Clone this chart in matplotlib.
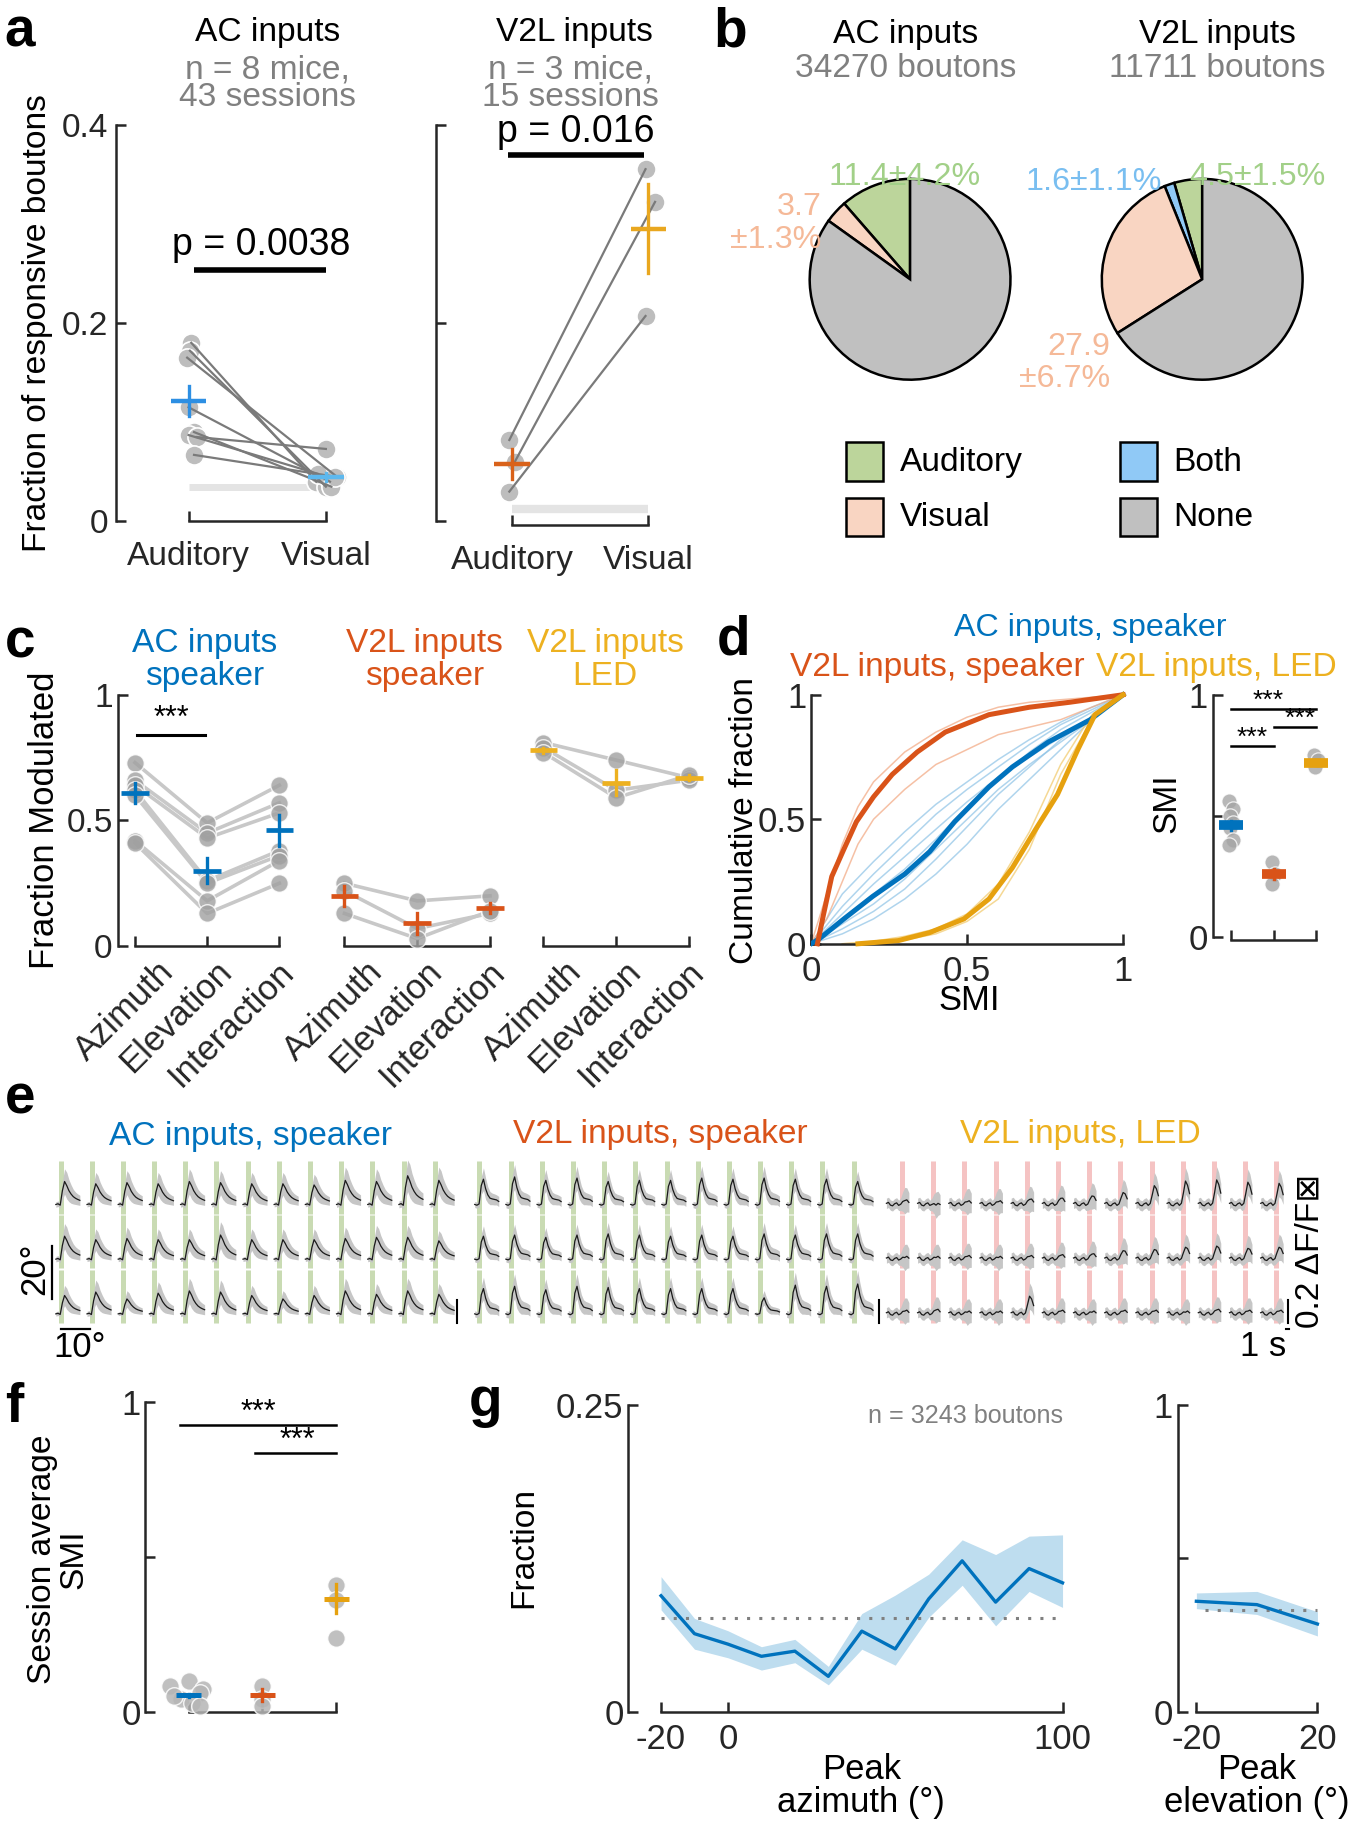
import numpy as np
import matplotlib
matplotlib.use('Agg')
import matplotlib.pyplot as plt
from matplotlib import font_manager
from matplotlib.patches import Rectangle

names = {f.name for f in font_manager.fontManager.ttflist}
REG = 'Liberation Sans' if 'Liberation Sans' in names else 'DejaVu Sans'
NAR = 'Liberation Sans Narrow' if 'Liberation Sans Narrow' in names else REG
NSC = 1.0 if NAR != REG else 0.86
plt.rcParams['font.family'] = [REG, 'DejaVu Sans']

# ------------------------------------------------------------------ data
# panel a
a_xlabels = ['Auditory', 'Visual']
a_yticks = [0, 0.2, 0.4]
a_yticklabels = ['0', '0.2', '0.4']
a_ac_aud = [0.180, 0.172, 0.165, 0.115, 0.090, 0.087, 0.085, 0.067]
a_ac_vis = [0.040, 0.035, 0.045, 0.040, 0.035, 0.048, 0.073, 0.045]
a_ac_mean = [0.121, 0.045]
a_ac_sem = [0.015, 0.004]
a_ac_chance = 0.035
a_v2_aud = [0.082, 0.060, 0.030]
a_v2_vis = [0.355, 0.322, 0.207]
a_v2_mean = [0.058, 0.295]
a_v2_sem = [0.015, 0.045]
a_v2_chance = 0.012
a_p = ['p = 0.0038', 'p = 0.016']

# panel b
b_cats = ['Auditory', 'Both', 'Visual', 'None']
b_ac = [11.4, 0.0, 3.7, 84.9]
b_v2 = [4.5, 1.6, 27.9, 66.0]
b_ac_n = '34270 boutons'
b_v2_n = '11711 boutons'

# panel c
c_xlabels = ['Azimuth', 'Elevation', 'Interaction']
c_ac = [[0.73, 0.49, 0.64], [0.66, 0.45, 0.57], [0.64, 0.43, 0.53],
        [0.62, 0.26, 0.38], [0.60, 0.25, 0.36], [0.42, 0.18, 0.34],
        [0.41, 0.13, 0.25]]
c_ac_mean = [0.61, 0.30, 0.46]
c_ac_sem = [0.04, 0.05, 0.06]
c_v2s = [[0.25, 0.18, 0.20], [0.22, 0.07, 0.13], [0.13, 0.03, 0.14]]
c_v2s_mean = [0.20, 0.09, 0.15]
c_v2s_sem = [0.04, 0.04, 0.02]
c_led = [[0.81, 0.74, 0.67], [0.79, 0.62, 0.66], [0.77, 0.59, 0.68]]
c_led_mean = [0.78, 0.65, 0.67]
c_led_sem = [0.01, 0.05, 0.01]

# panel d (cumulative distributions of SMI)
d_ac_xm = [0.0, 0.026, 0.105, 0.197, 0.30, 0.38, 0.46, 0.57, 0.645, 0.76, 0.895, 1.0]
d_ac_mean = [0.0, 0.02, 0.10, 0.19, 0.28, 0.37, 0.49, 0.63, 0.71, 0.81, 0.90, 1.0]
d_v2s_xm = [0.02, 0.04, 0.066, 0.105, 0.145, 0.20, 0.26, 0.34, 0.43, 0.57, 0.70, 0.83, 1.0]
d_v2s_mean = [0.0, 0.12, 0.27, 0.38, 0.49, 0.59, 0.68, 0.77, 0.85, 0.92, 0.95, 0.97, 1.0]
d_led_xm = [0.15, 0.28, 0.38, 0.49, 0.57, 0.645, 0.72, 0.79, 0.855, 0.91, 1.0]
d_led_mean = [0.0, 0.013, 0.045, 0.10, 0.18, 0.305, 0.46, 0.60, 0.78, 0.92, 1.0]
d_grid = [0.0, 0.1, 0.2, 0.3, 0.4, 0.5, 0.6, 0.7, 0.8, 0.9, 1.0]
d_ac_sess = [[0, 0.20, 0.33, 0.45, 0.56, 0.65, 0.74, 0.82, 0.89, 0.95, 1],
             [0, 0.15, 0.28, 0.40, 0.52, 0.62, 0.71, 0.80, 0.88, 0.94, 1],
             [0, 0.10, 0.20, 0.30, 0.42, 0.55, 0.66, 0.77, 0.86, 0.93, 1],
             [0, 0.06, 0.13, 0.22, 0.34, 0.47, 0.60, 0.71, 0.82, 0.91, 1],
             [0, 0.04, 0.10, 0.18, 0.28, 0.40, 0.54, 0.66, 0.78, 0.90, 1],
             [0, 0.08, 0.16, 0.26, 0.38, 0.50, 0.62, 0.72, 0.81, 0.90, 1],
             [0, 0.12, 0.24, 0.35, 0.46, 0.57, 0.67, 0.75, 0.83, 0.91, 1]]
d_v2_grid = [0.0, 0.05, 0.1, 0.15, 0.2, 0.3, 0.4, 0.5, 0.6, 0.7, 0.8, 0.9, 1.0]
d_v2s_sess = [[0, 0.20, 0.40, 0.55, 0.65, 0.77, 0.85, 0.91, 0.95, 0.97, 0.98, 0.99, 1],
              [0, 0.10, 0.25, 0.40, 0.50, 0.62, 0.72, 0.78, 0.84, 0.87, 0.90, 0.95, 1]]
d_led_grid = [0.1, 0.2, 0.3, 0.4, 0.5, 0.6, 0.7, 0.8, 0.9, 1.0]
d_led_sess = [[0, 0.01, 0.03, 0.06, 0.12, 0.24, 0.45, 0.72, 0.92, 1],
              [0, 0.005, 0.015, 0.04, 0.09, 0.18, 0.38, 0.68, 0.90, 1]]
d_smi_ac = [0.56, 0.53, 0.50, 0.47, 0.45, 0.40, 0.38]
d_smi_v2s = [0.31, 0.26, 0.22]
d_smi_led = [0.75, 0.73, 0.70]
d_smi_mean = [0.46, 0.26, 0.72]
d_smi_sem = [0.02, 0.02, 0.01]

# panel e (example tuning traces, dF/F)
e_ac_shape = [0.0, 0.03, -0.03, 0.60, 1.00, 0.82, 0.60, 0.45, 0.34, 0.27, 0.22, 0.18]
e_ac_err = [0.12, 0.12, 0.12, 0.40, 0.55, 0.58, 0.48, 0.40, 0.32, 0.27, 0.24, 0.22]
e_v2_shape = [0.0, -0.03, 0.02, 0.75, 1.00, 0.62, 0.38, 0.25, 0.22, 0.20, 0.18, 0.12]
e_v2_err = [0.12, 0.12, 0.12, 0.35, 0.45, 0.42, 0.32, 0.26, 0.23, 0.22, 0.20, 0.20]
e_led_base = [0.010, 0.018, -0.006, -0.012, 0.006, 0.014, -0.008, 0.0, 0.008, -0.006, 0.010, 0.0]
e_led_shape = [0, 0, 0, 0, 0, 0, 0, 0.05, 0.45, 1.0, 0.75, 0.45]
e_led_err = [0.02, 0.02, 0.02, 0.02, 0.02, 0.02, 0.02, 0.03, 0.06, 0.09, 0.08, 0.06]
e_ac_amp = [[0.20, 0.18, 0.19, 0.18, 0.20, 0.19, 0.18, 0.18, 0.17, 0.21, 0.20, 0.25, 0.21],
            [0.20, 0.17, 0.18, 0.17, 0.17, 0.21, 0.17, 0.17, 0.17, 0.18, 0.19, 0.19, 0.16],
            [0.16, 0.19, 0.13, 0.18, 0.20, 0.19, 0.16, 0.13, 0.16, 0.20, 0.17, 0.20, 0.17]]
e_v2_amp = [[0.22, 0.24, 0.21, 0.23, 0.20, 0.21, 0.21, 0.23, 0.22, 0.23, 0.22, 0.22, 0.20],
            [0.20, 0.21, 0.19, 0.21, 0.22, 0.21, 0.20, 0.21, 0.20, 0.22, 0.21, 0.22, 0.22],
            [0.22, 0.24, 0.21, 0.24, 0.23, 0.22, 0.22, 0.22, 0.22, 0.14, 0.25, 0.24, 0.26]]
e_led_amp = [[0.04, 0.0, 0.03, 0.03, 0.05, 0.06, 0.08, 0.11, 0.17, 0.21, 0.22, 0.20, 0.19],
             [0.02, 0.02, 0.03, 0.02, 0.03, 0.04, 0.05, 0.08, 0.09, 0.11, 0.12, 0.10, 0.11],
             [0.03, 0.04, 0.02, 0.02, 0.16, 0.03, 0.02, 0.03, 0.03, 0.02, 0.04, 0.03, 0.03]]

# panel f
f_ac = [0.084, 0.10, 0.074, 0.06, 0.04, 0.03, 0.02, 0.05]
f_v2s = [0.084, 0.04, 0.02]
f_led = [0.41, 0.36, 0.24]
f_mean = [0.053, 0.055, 0.365]
f_sem = [0.004, 0.02, 0.047]

# panel g
g_az = [-20, -10, 0, 10, 20, 30, 40, 50, 60, 70, 80, 90, 100]
g_az_mean = [0.0945, 0.0636, 0.0551, 0.0452, 0.0494, 0.0289, 0.0657, 0.0512, 0.0919, 0.1229, 0.0893, 0.1166, 0.1050]
g_az_hi = [0.110, 0.076, 0.066, 0.053, 0.059, 0.037, 0.080, 0.095, 0.112, 0.140, 0.128, 0.143, 0.144]
g_az_lo = [0.083, 0.051, 0.044, 0.034, 0.040, 0.022, 0.051, 0.038, 0.077, 0.103, 0.070, 0.098, 0.085]
g_az_chance = 0.076
g_el = [-20, 0, 20]
g_el_mean = [0.360, 0.349, 0.286]
g_el_hi = [0.387, 0.392, 0.326]
g_el_lo = [0.336, 0.317, 0.247]
g_el_chance = 0.331

# ------------------------------------------------------------------ style
BLUE, ORANGE, YELLOW = '#0072BD', '#D95319', '#EDB120'
A_BLUE, A_LBLUE, A_OR, A_YE = '#2D8FE3', '#5DB8EE', '#D9621A', '#E9A71F'
C_GREEN, C_PEACH, C_BOTH, C_NONE = '#BCD59B', '#F9D5C2', '#90C9F6', '#C0C0C0'
T_GREEN, T_PEACH, T_BLUE = '#A2D088', '#F5B998', '#79BEF0'
GRAYTXT = '#808080'
DARK = '#262626'
RS = 28  # regular text size

fig = plt.figure(figsize=(13.5, 18.28), dpi=100)
W, H = 1160.0, 1570.8


def ftext(x, y, s, size=RS, color='black', fam=None, **kw):
    kw.setdefault('ha', 'center')
    kw.setdefault('va', 'center')
    fam = fam or REG
    if fam == NAR:
        size = size * NSC
    fig.text(x / W, 1 - y / H, s, fontsize=size, color=color,
             family=[fam, 'DejaVu Sans'], **kw)


def add_ax(box, xmap, ymap):
    l, r, t, b = box
    (dx0, px0), (dx1, px1) = xmap
    sx = (px1 - px0) / (dx1 - dx0)
    (dy0, py0), (dy1, py1) = ymap
    sy = (py0 - py1) / (dy1 - dy0)
    ax = fig.add_axes([l / W, 1 - b / H, (r - l) / W, (b - t) / H])
    ax.set_xlim(dx0 + (l - px0) / sx, dx0 + (r - px0) / sx)
    ax.set_ylim(dy0 - (b - py0) / sy, dy0 + (py0 - t) / sy)
    ax.patch.set_visible(False)
    return ax


def style(ax, left=True, bottom=True, xb=None, yb=None, ypos=None):
    for s in ('top', 'right'):
        ax.spines[s].set_visible(False)
    ax.spines['left'].set_visible(left)
    ax.spines['bottom'].set_visible(bottom)
    for s in ('left', 'bottom'):
        ax.spines[s].set_linewidth(1.8)
        ax.spines[s].set_color(DARK)
    if xb is not None:
        ax.spines['bottom'].set_bounds(*xb)
    if yb is not None:
        ax.spines['left'].set_bounds(*yb)
    if ypos is not None:
        ax.spines['bottom'].set_position(('data', ypos))
    ax.tick_params(direction='in', length=7, width=1.8, color=DARK, labelcolor=DARK)
    if not left:
        ax.tick_params(axis='y', left=False, labelleft=False)
    if not bottom:
        ax.tick_params(axis='x', bottom=False, labelbottom=False)


def set_labels(ax, axis, ticks, labels, size, fam, **kw):
    sz = size * (NSC if fam == NAR else 1.0)
    if axis == 'x':
        ax.set_xticks(ticks)
        ax.set_xticklabels(labels, fontsize=sz, family=[fam, 'DejaVu Sans'], **kw)
    else:
        ax.set_yticks(ticks)
        ax.set_yticklabels(labels, fontsize=sz, family=[fam, 'DejaVu Sans'], **kw)


def cross(ax, x, m, e, color, hw, lw=3.0, vlw=None):
    ax.plot([x - hw, x + hw], [m, m], color=color, lw=lw, solid_capstyle='butt', zorder=6)
    ax.plot([x, x], [m - e, m + e], color=color, lw=vlw or lw * 0.75, zorder=6)


# panel letters
for lab, (x, y) in {'a': (4, 28), 'b': (613, 28), 'c': (4, 553), 'd': (616, 550),
                    'e': (4, 945), 'f': (4, 1210), 'g': (403, 1205)}.items():
    ftext(x, y, lab, size=46, weight='bold', ha='left')

# ------------------------------------------------------------------ panel a
axL = add_ax((100, 305, 95, 470), ((0, 162), (1, 280)), ((0, 448), (0.4, 107)))
style(axL, xb=(0, 1), yb=(0, 0.4), ypos=0)
set_labels(axL, 'y', a_yticks, a_yticklabels, RS, REG)
set_labels(axL, 'x', [0, 1], a_xlabels, RS, REG)
axL.tick_params(axis='x', pad=14)
axL.tick_params(axis='y', pad=6)
axL.plot([0, 1], [a_ac_chance] * 2, color='#E4E4E4', lw=5, solid_capstyle='butt', zorder=1)
jA = [0.02, 0.01, -0.01, 0.0, 0.04, 0.0, 0.06, 0.04]
jV = [-0.07, 0.0, 0.08, 0.03, 0.04, -0.06, 0.0, 0.07]
axL.scatter([0 + j for j in jA], a_ac_aud, s=190, color='#BDBDBD', edgecolor='white', lw=1.2, zorder=3)
axL.scatter([1 + j for j in jV], a_ac_vis, s=190, color='#BDBDBD', edgecolor='white', lw=1.2, zorder=3)
for i in range(len(a_ac_aud)):
    axL.plot([0 + jA[i], 1 + jV[i]], [a_ac_aud[i], a_ac_vis[i]], color='#7A7A7A', lw=1.6, zorder=4)
cross(axL, 0, a_ac_mean[0], a_ac_sem[0], A_BLUE, 0.13, lw=3.2)
cross(axL, 1, a_ac_mean[1], a_ac_sem[1], A_LBLUE, 0.13, lw=3.2)
axL.plot([0.04, 1.0], [0.253, 0.253], color='black', lw=4, solid_capstyle='butt')
axL.text(0.53, 0.279, a_p[0], fontsize=27, ha='center', va='center')

axR = add_ax((375, 590, 95, 470), ((0, 440), (1, 557)), ((0, 448), (0.4, 107)))
style(axR, xb=(0, 1), yb=(0, 0.4), ypos=-0.004)
set_labels(axR, 'y', a_yticks, ['', '', ''], RS, REG)
set_labels(axR, 'x', [0, 1], a_xlabels, RS, REG)
axR.tick_params(axis='x', pad=14)
axR.plot([0, 1], [a_v2_chance] * 2, color='#E4E4E4', lw=6, solid_capstyle='butt', zorder=1)
jA2 = [-0.02, 0.02, -0.02]
jV2 = [-0.02, 0.05, -0.02]
axR.scatter([0 + j for j in jA2], a_v2_aud, s=190, color='#BDBDBD', edgecolor='white', lw=1.2, zorder=3)
axR.scatter([1 + j for j in jV2], a_v2_vis, s=190, color='#BDBDBD', edgecolor='white', lw=1.2, zorder=3)
for i in range(len(a_v2_aud)):
    axR.plot([0 + jA2[i], 1 + jV2[i]], [a_v2_aud[i], a_v2_vis[i]], color='#7A7A7A', lw=1.6, zorder=4)
cross(axR, 0, a_v2_mean[0], a_v2_sem[0], A_OR, 0.13, lw=3.2)
cross(axR, 1, a_v2_mean[1], a_v2_sem[1], A_YE, 0.13, lw=3.2)
axR.plot([-0.03, 0.97], [0.3695, 0.3695], color='black', lw=4, solid_capstyle='butt')
axR.text(0.47, 0.392, a_p[1], fontsize=27, ha='center', va='center')

ftext(32, 278, 'Fraction of responsive boutons', size=RS, rotation=90)
ftext(230, 28, 'AC inputs', size=RS)
ftext(230, 60, 'n = 8 mice,', size=RS, color=GRAYTXT)
ftext(230, 84, '43 sessions', size=RS, color=GRAYTXT)
ftext(494, 28, 'V2L inputs', size=RS)
ftext(490, 60, 'n = 3 mice,', size=RS, color=GRAYTXT)
ftext(490, 84, '15 sessions', size=RS, color=GRAYTXT)

# ------------------------------------------------------------------ panel b
ftext(778, 30, 'AC inputs', size=RS)
ftext(778, 59, b_ac_n, size=RS, color=GRAYTXT)
ftext(1046, 30, 'V2L inputs', size=RS)
ftext(1046, 59, b_v2_n, size=RS, color=GRAYTXT)
cat_col = {'Auditory': C_GREEN, 'Both': C_BOTH, 'Visual': C_PEACH, 'None': C_NONE}
for vals, cx in ((b_ac, 782), (b_v2, 1033)):
    r = 86
    axp = fig.add_axes([(cx - r - 2) / W, 1 - (240 + r + 2) / H, (2 * r + 4) / W, (2 * r + 4) / H])
    v = [x for x in vals if x > 0]
    cols = [cat_col[c] for c, x in zip(b_cats, vals) if x > 0]
    axp.pie(v, colors=cols, startangle=90, counterclock=True, radius=1.0,
            wedgeprops=dict(edgecolor='black', linewidth=1.8))
    axp.set_xlim(-1.02, 1.02)
    axp.set_ylim(-1.02, 1.02)
    axp.set_aspect('equal')
PS = 27
ftext(777, 152, '11.4±4.2%', size=PS, color=T_GREEN)
ftext(706, 178, '3.7', size=PS, color=T_PEACH, ha='right')
ftext(706, 206, '±1.3%', size=PS, color=T_PEACH, ha='right')
ftext(940, 156, '1.6±1.1%', size=PS, color=T_BLUE)
ftext(1080, 152, '4.5±1.5%', size=PS, color=T_GREEN)
ftext(954, 298, '27.9', size=PS, color=T_PEACH, ha='right')
ftext(954, 326, '±6.7%', size=PS, color=T_PEACH, ha='right')
for lab, (bx, by) in {'Auditory': (727, 380), 'Visual': (727, 428),
                      'Both': (962, 380), 'None': (962, 428)}.items():
    fig.add_artist(Rectangle((bx / W, 1 - (by + 33) / H), 32 / W, 33 / H,
                             transform=fig.transFigure, facecolor=cat_col[lab],
                             edgecolor='black', lw=1.8))
    ftext(bx + 46, by + 17, lab, size=RS, ha='left')

# ------------------------------------------------------------------ panel c
c_sets = [(c_ac, c_ac_mean, c_ac_sem, BLUE, (116, 240), (101, 260), True),
          (c_v2s, c_v2s_mean, c_v2s_sem, ORANGE, (296, 421), (280, 440), False),
          (c_led, c_led_mean, c_led_sem, YELLOW, (467, 592), (450, 610), False)]
c_lab_off = [0.30, 0.10, -0.03]
c_axes = []
for sess, m, e, col, (p0, p2), (bl, br), first in c_sets:
    ax = add_ax((bl, br, 590, 830), ((0, p0), (2, p2)), ((0, 813), (1, 597)))
    style(ax, left=first, xb=(0, 2), yb=(0, 1), ypos=0)
    if first:
        set_labels(ax, 'y', [0, 0.5, 1], ['0', '0.5', '1'], 28, NAR)
    ax.set_xticks([0, 1, 2])
    ax.set_xticklabels(['', '', ''])
    for k, lab in enumerate(c_xlabels):
        ax.text(k + c_lab_off[k], -0.035, lab, rotation=45, ha='right', va='top',
                rotation_mode='anchor', fontsize=29 * NSC, family=[NAR, 'DejaVu Sans'],
                color=DARK, clip_on=False)
    for s in sess:
        ax.plot([0, 1, 2], s, color='#C8C8C8', lw=2.6, zorder=2)
        ax.scatter([0, 1, 2], s, s=160, color='#A0A0A0', alpha=0.8, edgecolor='white',
                   lw=1.0, zorder=3)
    for k in range(3):
        cross(ax, k, m[k], e[k], col, 0.19, lw=3.4, vlw=2.4)
    c_axes.append(ax)
c_axes[0].plot([0.03, 0.97], [0.838, 0.838], color='black', lw=2.2)
c_axes[0].text(0.5, 0.905, '***', fontsize=22, ha='center', va='center')
ftext(38, 705, 'Fraction Modulated', size=29, rotation=90)
ftext(176, 553, 'AC inputs', size=28, color=BLUE, fam=NAR)
ftext(176, 581, 'speaker', size=28, color=BLUE, fam=NAR)
ftext(365, 553, 'V2L inputs', size=28, color=ORANGE, fam=NAR)
ftext(365, 581, 'speaker', size=28, color=ORANGE, fam=NAR)
ftext(520, 553, 'V2L inputs', size=28, color=YELLOW, fam=NAR)
ftext(520, 581, 'LED', size=28, color=YELLOW, fam=NAR)

# ------------------------------------------------------------------ panel d
axd = add_ax((697, 985, 590, 830), ((0, 697), (1, 965)), ((0, 811), (1, 597)))
style(axd, xb=(0, 1), yb=(0, 1), ypos=0)
set_labels(axd, 'y', [0, 0.5, 1], ['0', '0.5', '1'], 29, NAR)
set_labels(axd, 'x', [0, 0.5, 1], ['0', '0.5', '1'], 29, NAR)
axd.tick_params(axis='x', pad=8)
for s in d_ac_sess:
    axd.plot(d_grid, s, color='#8EC3E6', lw=1.1, alpha=0.7, zorder=2)
for s in d_v2s_sess:
    axd.plot(d_v2_grid, s, color='#F2A67F', lw=1.1, alpha=0.7, zorder=2)
for s in d_led_sess:
    axd.plot(d_led_grid, s, color='#F3CF7A', lw=1.1, alpha=0.8, zorder=2)
axd.plot(d_ac_xm, d_ac_mean, color=BLUE, lw=3.6, zorder=4)
axd.plot(d_v2s_xm, d_v2s_mean, color=ORANGE, lw=3.6, zorder=4)
axd.plot(d_led_xm, d_led_mean, color='#E6A10F', lw=3.6, zorder=4)
ftext(640, 705, 'Cumulative fraction', size=RS, rotation=90)
ftext(833, 860, 'SMI', size=29, fam=NAR)
ftext(937, 540, 'AC inputs, speaker', size=27, color=BLUE, fam=NAR)
ftext(805, 574, 'V2L inputs, speaker', size=28, color=ORANGE, fam=NAR)
ftext(1045, 574, 'V2L inputs, LED', size=28, color=YELLOW, fam=NAR)

axs = add_ax((1042, 1150, 585, 830), ((1, 1058), (3, 1131)), ((0, 805), (1, 597)))
style(axs, xb=(1, 3), yb=(0, 1), ypos=-0.012)
set_labels(axs, 'y', [0, 0.5, 1], ['0', '', '1'], 29, NAR)
axs.set_xticks([1, 2, 3])
axs.set_xticklabels(['', '', ''])
jit_s = [-0.05, 0.04, -0.04, 0.05, -0.03, 0.03, -0.05]
for k, vals in enumerate((d_smi_ac, d_smi_v2s, d_smi_led)):
    jj = jit_s[:len(vals)]
    axs.scatter([k + 1 + j for j in jj], vals, s=120, color='#A5A5A5', alpha=0.8,
                edgecolor='white', lw=0.9, zorder=3)
    cross(axs, k + 1, d_smi_mean[k], d_smi_sem[k], (BLUE, ORANGE, '#E6A10F')[k], 0.28,
          lw=7, vlw=2.4)
axs.plot([1, 3], [0.94, 0.94], color='black', lw=1.8)
axs.plot([2, 3], [0.865, 0.865], color='black', lw=1.8)
axs.plot([1, 2], [0.79, 0.79], color='black', lw=1.8)
axs.text(1.86, 0.945, '***', fontsize=19, ha='center', va='baseline')
axs.text(2.62, 0.87, '***', fontsize=19, ha='center', va='baseline')
axs.text(1.5, 0.795, '***', fontsize=19, ha='center', va='baseline')
ftext(1003, 690, 'SMI', size=RS, rotation=90)

# ------------------------------------------------------------------ panel e
axe = add_ax((25, 1150, 960, 1175), ((0, 52), (1, 78.8)), ((0, 1035), (-1, 1082)))
axe.axis('off')
UNIT = 2.1  # row units per dF/F
sp_t = np.linspace(-0.15, 0.62, 12)
led_t = np.linspace(-0.50, 0.22, 12)
groups = [(0.0, e_ac_amp, e_ac_shape, e_ac_err, '#C9DBB3', sp_t, None),
          (13.43, e_v2_amp, e_v2_shape, e_v2_err, '#C9DBB3', sp_t, None),
          (26.98, e_led_amp, e_led_shape, e_led_err, '#F5C3C3', led_t, e_led_base)]
for off, amps, shape, err, scol, tt, base in groups:
    for r in range(3):
        y0 = -r
        for c in range(13):
            x = off + c
            axe.plot([x, x], [y0 - 0.17, y0 + 0.80], color=scol, lw=3.6,
                     solid_capstyle='butt', zorder=1)
            a = amps[r][c]
            yy = np.array(shape) * a
            if base is not None:
                yy = yy + np.array(base)
                ee = np.array(err) + 0.025
            else:
                ee = np.array(err) * a
            axe.fill_between(x + tt, y0 + (yy - ee) * UNIT, y0 + (yy + ee) * UNIT,
                             color='#C6C6C6', lw=0, zorder=2)
            axe.plot(x + tt, y0 + yy * UNIT, color='#1A1A1A', lw=0.9, zorder=3)
# scale bars
axe.plot([-0.26, -0.26], [-0.76, -1.72], color='black', lw=1.6)
axe.plot([0.0, 0.93], [-2.28, -2.28], color='black', lw=1.6)
for xb in (12.72, 13.43 + 12.8, 26.98 + 12.36):
    axe.plot([xb, xb], [-1.74, -1.74 - 0.2 * UNIT], color='black', lw=1.5)
axe.plot([39.30, 39.40], [-2.28, -2.28], color='black', lw=1.5)
ftext(30, 1090, '20°', size=29, rotation=90, fam=NAR)
ftext(68, 1158, '10°', size=29, fam=NAR)
ftext(1085, 1157, '1 s', size=29, fam=NAR)
ftext(1126, 1075, '0.2 ΔF/F⊠', size=28, rotation=90)
ftext(215, 977, 'AC inputs, speaker', size=28, color=BLUE, fam=NAR)
ftext(567, 975, 'V2L inputs, speaker', size=28, color=ORANGE, fam=NAR)
ftext(928, 975, 'V2L inputs, LED', size=28, color=YELLOW, fam=NAR)

# ------------------------------------------------------------------ panel f
axf = add_ax((125, 310, 1195, 1490), ((1, 162), (3, 289)), ((0, 1471), (1, 1205)))
style(axf, xb=(1, 3), yb=(0, 1), ypos=0)
set_labels(axf, 'y', [0, 0.5, 1], ['0', '', '1'], 29, NAR)
axf.set_xticks([1, 2, 3])
axf.set_xticklabels(['', '', ''])
jf = [[-0.25, 0.0, 0.2, 0.15, -0.1, 0.05, 0.15, -0.2], [0.0, 0.0, 0.0], [0.0, 0.0, 0.0]]
for k, vals in enumerate((f_ac, f_v2s, f_led)):
    axf.scatter([k + 1 + j for j in jf[k]], vals, s=160, color='#B5B5B5', alpha=0.85,
                edgecolor='white', lw=1.0, zorder=3)
    cross(axf, k + 1, f_mean[k], f_sem[k], (BLUE, ORANGE, '#E6A10F')[k], 0.17,
          lw=3.6, vlw=2.4)
axf.plot([0.88, 3.0], [0.926, 0.926], color='black', lw=1.8)
axf.plot([1.9, 3.0], [0.835, 0.835], color='black', lw=1.8)
axf.text(1.94, 0.965, '***', fontsize=22, ha='center', va='center')
axf.text(2.47, 0.875, '***', fontsize=22, ha='center', va='center')
ftext(50, 1340, 'Session average\nSMI', size=RS, rotation=90, linespacing=1.0)

# ------------------------------------------------------------------ panel g
axg = add_ax((540, 930, 1195, 1490), ((-20, 568), (100, 913)), ((0, 1471), (0.25, 1207)))
style(axg, xb=(-20, 100), yb=(0, 0.25), ypos=0)
set_labels(axg, 'y', [0, 0.25], ['0', '0.25'], 29, NAR)
set_labels(axg, 'x', [-20, 0, 100], ['-20', '0', '100'], 29, NAR)
axg.tick_params(axis='x', pad=8)
axg.fill_between(g_az, g_az_lo, g_az_hi, color='#BEDDEF', lw=0, zorder=1)
axg.plot(g_az, g_az_mean, color=BLUE, lw=2.4, zorder=3)
axg.plot([-20, 100], [g_az_chance] * 2, color='#808080', lw=2.2, ls=(0, (1, 3)), zorder=2)
axg.text(71, 0.2405, 'n = 3243 boutons', fontsize=21 * NSC, color=GRAYTXT,
         family=[NAR, 'DejaVu Sans'], ha='center', va='center')
ftext(450, 1330, 'Fraction', size=RS, rotation=90)
ftext(740, 1535, 'Peak\nazimuth (°)', size=29, fam=NAR, linespacing=1.0)

axg2 = add_ax((1012, 1150, 1195, 1490), ((-20, 1028), (20, 1132)), ((0, 1471), (1, 1207)))
style(axg2, xb=(-20, 20), yb=(0, 1), ypos=0)
set_labels(axg2, 'y', [0, 0.5, 1], ['0', '', '1'], 29, NAR)
set_labels(axg2, 'x', [-20, 20], ['-20', '20'], 29, NAR)
axg2.tick_params(axis='x', pad=8)
axg2.fill_between(g_el, g_el_lo, g_el_hi, color='#BEDDEF', lw=0, zorder=1)
axg2.plot(g_el, g_el_mean, color=BLUE, lw=2.4, zorder=3)
axg2.plot([-17, 20], [g_el_chance] * 2, color='#808080', lw=2.2, ls=(0, (1, 3)), zorder=2)
ftext(1080, 1535, 'Peak\nelevation (°)', size=29, fam=NAR, linespacing=1.0)

fig.savefig('out.png', dpi=100, facecolor='white')
